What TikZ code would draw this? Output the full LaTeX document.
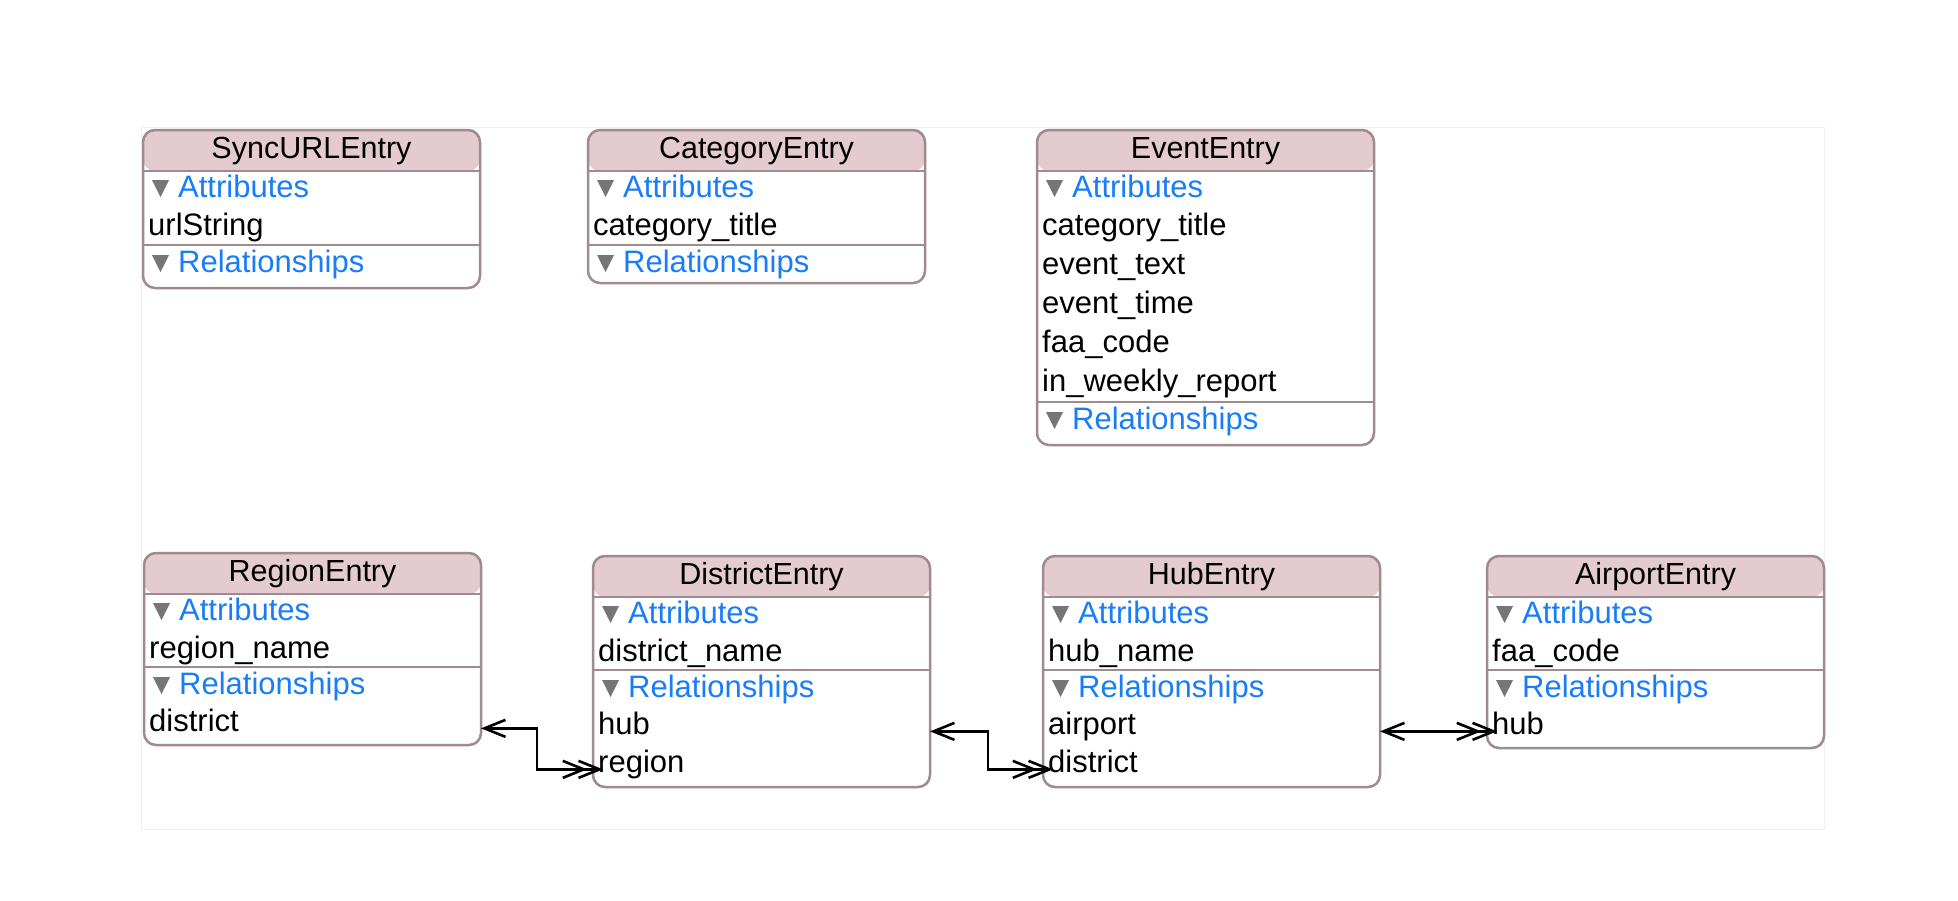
\documentclass[tikz,border=0pt]{standalone}
\usepackage{fontspec}
\setmainfont{Liberation Sans}
\usetikzlibrary{arrows.meta}
\definecolor{headfill}{HTML}{E3CBD0}
\definecolor{edge}{HTML}{9E8A8F}
\definecolor{grpblue}{HTML}{1A7DF8}
\definecolor{trigray}{HTML}{767676}
\definecolor{framecol}{HTML}{EFEFEF}
\newcommand{\disc}[2]{\fill[trigray] ({#1+9},{#2-17}) -- ({#1+26},{#2-17}) -- ({#1+17.5},{#2}) -- cycle;}
\newcommand{\hsep}[2]{\draw[sepline] (#1,#2) -- ({#1+337},#2);}
\tikzset{
  ebox/.style={draw=edge, line width=2.5pt, rounded corners=12pt, fill=white,
    minimum width=337pt, inner sep=0pt, outer sep=0pt, anchor=north west,
    path picture={\fill[headfill] (path picture bounding box.north west) rectangle ([yshift=-41pt]path picture bounding box.north east);}},
  sepline/.style={draw=edge, line width=2.2pt},
  ttl/.style={anchor=base, inner sep=0pt, font=\fontsize{30.5}{36}\selectfont, text=black},
  attr/.style={anchor=base west, inner sep=0pt, font=\fontsize{31}{36}\selectfont, text=black},
  grp/.style={anchor=base west, inner sep=0pt, font=\fontsize{31}{36}\selectfont, text=grpblue},
  rel/.style={line width=2.6pt, draw=black,
    {Straight Barb[length=21pt,width=17pt]}-{Straight Barb[length=21pt,width=17pt,sep=-10pt] Straight Barb[length=21pt,width=17pt,sep=-10pt]}},
}
\begin{document}
\begin{tikzpicture}[x=1pt,y=-1pt]
\fill[white] (0,0) rectangle (1958,900);
\useasboundingbox (0,0) rectangle (1958,900);
\draw[framecol, line width=1pt] (141,127) rectangle (1824,829);

% SyncURLEntry
\node[ebox, minimum height=158pt] (sync) at (143,130) {};
\hsep{143}{171}\hsep{143}{245}
\node[ttl] (sync-title) at (311.5,158) {SyncURLEntry};
\disc{143}{197}\node[grp] (sync-attr) at (178,197) {Attributes};
\node[attr] (sync-urlString) at (148,235) {urlString};
\disc{143}{272}\node[grp] (sync-rel) at (178,272) {Relationships};

% CategoryEntry
\node[ebox, minimum height=153pt] (category) at (588,130) {};
\hsep{588}{171}\hsep{588}{245}
\node[ttl] (category-title) at (756.5,158) {CategoryEntry};
\disc{588}{197}\node[grp] (category-attr) at (623,197) {Attributes};
\node[attr] (category-title-attr) at (593,235) {category\_title};
\disc{588}{272}\node[grp] (category-rel) at (623,272) {Relationships};

% EventEntry
\node[ebox, minimum height=315pt] (event) at (1037,130) {};
\hsep{1037}{171}\hsep{1037}{402}
\node[ttl] (event-title) at (1205.5,158) {EventEntry};
\disc{1037}{197}\node[grp] (event-attr) at (1072,197) {Attributes};
\node[attr] (event-a1) at (1042,235) {category\_title};
\node[attr] (event-a2) at (1042,274) {event\_text};
\node[attr] (event-a3) at (1042,313) {event\_time};
\node[attr] (event-a4) at (1042,352) {faa\_code};
\node[attr] (event-a5) at (1042,391) {in\_weekly\_report};
\disc{1037}{429}\node[grp] (event-rel) at (1072,429) {Relationships};

% RegionEntry
\node[ebox, minimum height=192pt] (region) at (144,553) {};
\hsep{144}{594}\hsep{144}{667}
\node[ttl] (region-title) at (312.5,581) {RegionEntry};
\disc{144}{620}\node[grp] (region-attr) at (179,620) {Attributes};
\node[attr] (region-name) at (149,658) {region\_name};
\disc{144}{694}\node[grp] (region-rel) at (179,694) {Relationships};
\node[attr] (region-district) at (149,731) {district};

% DistrictEntry
\node[ebox, minimum height=231pt] (district) at (593,556) {};
\hsep{593}{597}\hsep{593}{670}
\node[ttl] (district-title) at (761.5,584) {DistrictEntry};
\disc{593}{623}\node[grp] (district-attr) at (628,623) {Attributes};
\node[attr] (district-name) at (598,661) {district\_name};
\disc{593}{697}\node[grp] (district-rel) at (628,697) {Relationships};
\node[attr] (district-hub) at (598,734) {hub};
\node[attr] (district-region) at (598,772) {region};

% HubEntry
\node[ebox, minimum height=231pt] (hub) at (1043,556) {};
\hsep{1043}{597}\hsep{1043}{670}
\node[ttl] (hub-title) at (1211.5,584) {HubEntry};
\disc{1043}{623}\node[grp] (hub-attr) at (1078,623) {Attributes};
\node[attr] (hub-name) at (1048,661) {hub\_name};
\disc{1043}{697}\node[grp] (hub-rel) at (1078,697) {Relationships};
\node[attr] (hub-airport) at (1048,734) {airport};
\node[attr] (hub-district) at (1048,772) {district};

% AirportEntry
\node[ebox, minimum height=192pt] (airport) at (1487,556) {};
\hsep{1487}{597}\hsep{1487}{670}
\node[ttl] (airport-title) at (1655.5,584) {AirportEntry};
\disc{1487}{623}\node[grp] (airport-attr) at (1522,623) {Attributes};
\node[attr] (airport-faa) at (1492,661) {faa\_code};
\disc{1487}{697}\node[grp] (airport-rel) at (1522,697) {Relationships};
\node[attr] (airport-hub) at (1492,734) {hub};

% relationships
\draw[rel] (region.east |- region-district.mid) -- ++(56,0) |- (district.west |- district-region.mid);
\draw[rel] (district.east |- district-hub.mid) -- ++(58,0) |- (hub.west |- hub-district.mid);
\draw[rel] (hub.east |- hub-airport.mid) -- (airport.west |- airport-hub.mid);
\end{tikzpicture}
\end{document}
